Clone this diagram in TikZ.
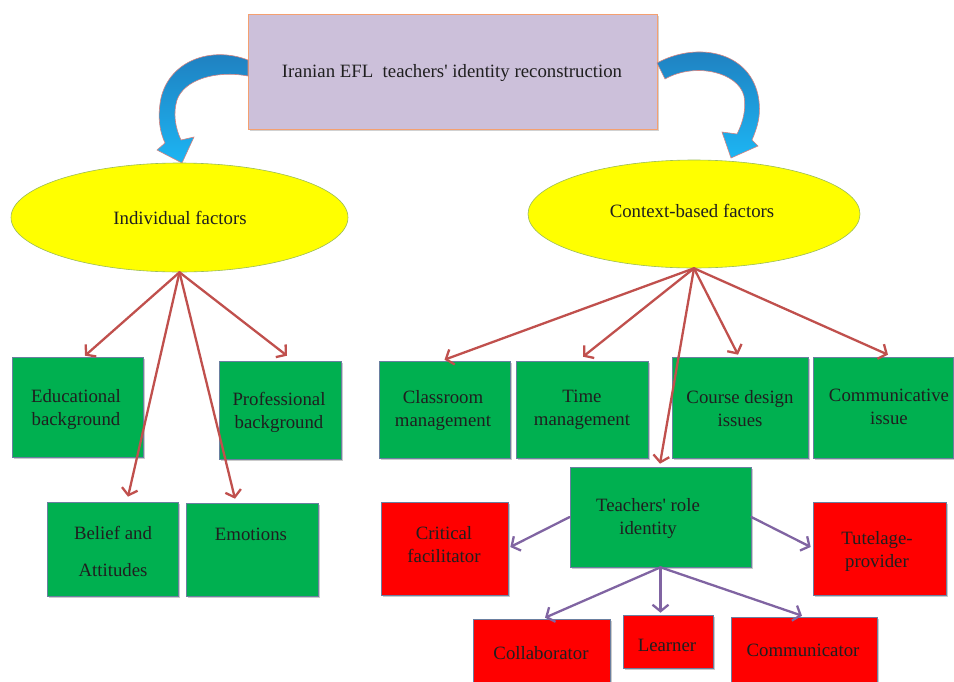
\documentclass[tikz,border=0pt]{standalone}
\usepackage{fontspec}
\setmainfont{Liberation Serif}[Ligatures=TeXOff]
\usetikzlibrary{arrows.meta,shapes.geometric,shadows}
\definecolor{gfill}{HTML}{00B050}
\definecolor{rfill}{HTML}{FF0000}
\definecolor{lav}{HTML}{CCC0DA}
\definecolor{orng}{HTML}{F4A070}
\definecolor{yel}{HTML}{FFFF00}
\definecolor{ybord}{HTML}{9BBB59}
\definecolor{redarr}{HTML}{C0504D}
\definecolor{purarr}{HTML}{8064A2}
\definecolor{bluetop}{HTML}{1F7DBD}
\definecolor{bluebot}{HTML}{1DB5F3}
\definecolor{boxbord}{HTML}{6A7FA0}
\begin{document}
\begin{tikzpicture}[x=1pt,y=-1pt,
  txt/.style={font=\fontsize{18.8}{23}\selectfont, align=center, inner sep=0pt, text=black!88},
  boxbase/.style={draw=boxbord, line width=0.6pt, inner sep=0pt,
    drop shadow={shadow xshift=1.6pt, shadow yshift=-1.6pt, opacity=0.35, fill=black!60}},
  gbox/.style={boxbase, fill=gfill},
  rbox/.style={boxbase, fill=rfill},
  titlebox/.style={draw=orng, line width=0.8pt, fill=lav, inner sep=0pt,
    drop shadow={shadow xshift=1.6pt, shadow yshift=-1.6pt, opacity=0.3, fill=black!60}},
  ell/.style={ellipse, draw=ybord, line width=0.6pt, fill=yel, inner sep=0pt},
  redarrow/.style={draw=redarr, line width=2.3pt, line cap=round, -{Straight Barb[length=6.5pt,width=16pt]}},
  purarrow/.style={draw=purarr, line width=2.3pt, line cap=round, -{Straight Barb[length=6.5pt,width=16pt]}},
  bluearrow/.style={draw=redarr!70, line width=0.6pt, top color=bluetop, bottom color=bluebot}
]
\useasboundingbox (0,0) rectangle (954,681);

% title
\node[titlebox, minimum width=409pt, minimum height=115pt] (title) at (452.5,71.5) {};
\node[txt] (titletxt) at (452,73) {Iranian EFL\ \ teachers' identity reconstruction};

% curved block arrows
\path[bluearrow] (248,60) .. controls (212,46) and (170,60) .. (161,98)
  .. controls (157,118) and (160,132) .. (165,143)
  -- (157,150) -- (182,163) -- (194,137) -- (181,140)
  .. controls (175,127) and (173,113) .. (177,100)
  .. controls (184,80) and (215,70) .. (248,76) -- cycle;
\path[bluearrow] (657,63) .. controls (695,42) and (748,50) .. (758,95)
  .. controls (762,115) and (757,128) .. (752,140)
  -- (758,146) -- (731,158) -- (722,132) -- (737,134)
  .. controls (744,120) and (746,108) .. (744,96)
  .. controls (738,72) and (695,62) .. (665,79) -- cycle;

% ellipses
\node[ell, minimum width=337pt, minimum height=109pt] (lell) at (179.5,217.5) {};
\node[txt] (lelltxt) at (180,218) {Individual factors};
\node[ell, minimum width=332pt, minimum height=108pt] (rell) at (694,214) {};
\node[txt] (relltxt) at (692,211) {Context-based factors};

% left boxes
\node[gbox, minimum width=131pt, minimum height=100pt] (edu) at (77.5,407) {};
\node[txt] (edutxt) at (76,409) {Educational\\background};
\node[gbox, minimum width=122pt, minimum height=98pt] (prof) at (280,410) {};
\node[txt] (proftxt) at (279,412) {Professional\\background};
\node[gbox, minimum width=131pt, minimum height=94pt] (belief) at (112.5,549) {};
\node[txt] (belieftxt) at (113,551) {Belief and\\[14pt]Attitudes};
\node[gbox, minimum width=132pt, minimum height=93pt] (emo) at (252,549.5) {};
\node[txt] (emotxt) at (251,534) {Emotions};

% right boxes
\node[gbox, minimum width=131pt, minimum height=97pt] (cls) at (444.5,409.5) {};
\node[txt] (clstxt) at (443,410) {Classroom\\management};
\node[gbox, minimum width=132pt, minimum height=97pt] (tim) at (582,409.5) {};
\node[txt] (timtxt) at (582,410) {Time\\management};
\node[gbox, minimum width=136pt, minimum height=101pt] (crs) at (740,407.5) {};
\node[txt] (crstxt) at (740,409) {Course design\\issues};
\node[gbox, minimum width=140pt, minimum height=101pt] (cmi) at (883,407.5) {};
\node[txt] (cmitxt) at (889,407) {Communicative\\issue};
\node[gbox, minimum width=181pt, minimum height=100pt] (teach) at (660.5,517) {};
\node[txt] (teachtxt) at (648,518) {Teachers' role\\identity};

% red boxes
\node[rbox, minimum width=127pt, minimum height=93pt] (crit) at (444.5,548.5) {};
\node[txt] (crittxt) at (444,545) {Critical\\facilitator};
\node[rbox, minimum width=133pt, minimum height=93pt] (tut) at (879.5,548.5) {};
\node[txt] (tuttxt) at (877,551) {Tutelage-\\provider};
\node[rbox, minimum width=137pt, minimum height=81pt] (col) at (541.5,659.5) {};
\node[txt] (coltxt) at (541,653) {Collaborator};
\node[rbox, minimum width=90pt, minimum height=53pt] (lrn) at (668,641.5) {};
\node[txt] (lrntxt) at (667,645) {Learner};
\node[rbox, minimum width=146pt, minimum height=83pt] (com) at (804,658.5) {};
\node[txt] (comtxt) at (803,650) {Communicator};

% red connectors
\draw[redarrow] (lell.south) -- ([xshift=7.5pt,yshift=1pt]edu.north);
\draw[redarrow] (lell.south) -- ([xshift=15.5pt,yshift=5pt]belief.north);
\draw[redarrow] (lell.south) -- ([xshift=-17pt,yshift=4pt]emo.north);
\draw[redarrow] (lell.south) -- ([xshift=7pt,yshift=5pt]prof.north);
\draw[redarrow] (rell.south) -- ([yshift=1pt]cls.north);
\draw[redarrow] (rell.south) -- ([xshift=1pt,yshift=4pt]tim.north);
\draw[redarrow] (rell.south) -- ([xshift=-2pt,yshift=2pt]crs.north);
\draw[redarrow] (rell.south) -- ([xshift=5pt,yshift=2pt]cmi.north);
\draw[redarrow] (rell.south) -- ([xshift=-0.5pt,yshift=3pt]teach.north);

% purple connectors
\draw[purarrow] (teach.west) -- ([xshift=2pt,yshift=1.5pt]crit.east);
\draw[purarrow] (teach.east) -- ([xshift=-2pt,yshift=1.5pt]tut.west);
\draw[purarrow] (teach.south) -- ([xshift=3.5pt,yshift=1pt]col.north);
\draw[purarrow] (teach.south) -- ([yshift=2pt]teach.south |- lrn.north);
\draw[purarrow] (teach.south) -- ([xshift=-2pt,yshift=1pt]com.north);
\end{tikzpicture}
\end{document}
